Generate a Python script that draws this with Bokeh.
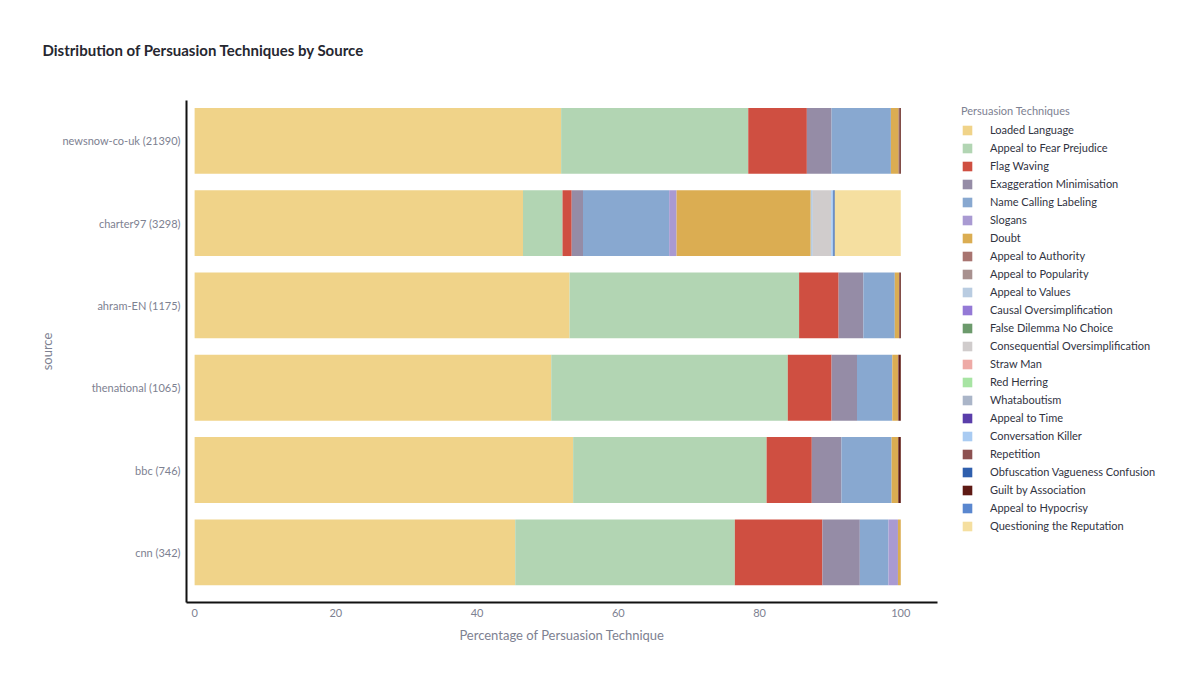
from bokeh.plotting import figure
from bokeh.models import ColumnDataSource, Range1d, FixedTicker, Legend, LegendItem
from bokeh.embed import file_html
from bokeh.resources import INLINE

FONT = "Lato"

# ---------------- data ----------------
sources = ["newsnow-co-uk (21390)", "charter97 (3298)", "ahram-EN (1175)",
           "thenational (1065)", "bbc (746)", "cnn (342)"]

techniques = ["Loaded Language", "Appeal to Fear Prejudice", "Flag Waving",
              "Exaggeration Minimisation", "Name Calling Labeling", "Slogans", "Doubt",
              "Appeal to Authority", "Appeal to Popularity", "Appeal to Values",
              "Causal Oversimplification", "False Dilemma No Choice",
              "Consequential Oversimplification", "Straw Man", "Red Herring",
              "Whataboutism", "Appeal to Time", "Conversation Killer", "Repetition",
              "Obfuscation Vagueness Confusion", "Guilt by Association",
              "Appeal to Hypocrisy", "Questioning the Reputation"]

colors = ["#f0d389", "#b2d5b3", "#cf4f41", "#958ca6", "#88a8d0", "#a99ad2", "#dbad52",
          "#a87470", "#a8918f", "#b9cce1", "#9479d6", "#6c9a6c", "#d0cccc", "#eeaaa6",
          "#a7e4a3", "#aab5c8", "#5a3eaa", "#a9cbf2", "#8c5151", "#2f5fad", "#5e1a14",
          "#5a87cf", "#f5dfa0"]

# percentages per source, in the order of `techniques`
newsnow = [51.9, 26.5, 8.3, 3.5, 8.4, 0, 1.1, 0, 0, 0, 0, 0, 0, 0, 0, 0, 0, 0, 0.15, 0, 0.15, 0, 0]
charter97 = [46.5, 5.6, 1.3, 1.6, 12.2, 1.05, 19.0, 0, 0, 0.3, 0, 0, 2.6, 0, 0, 0, 0, 0.3, 0, 0.2, 0, 0, 9.35]
ahram = [53.1, 32.5, 5.6, 3.5, 4.45, 0, 0.6, 0, 0, 0, 0, 0, 0, 0, 0, 0, 0, 0, 0.1, 0, 0.15, 0, 0]
thenational = [50.5, 33.5, 6.2, 3.6, 5.0, 0, 0.8, 0, 0, 0, 0, 0, 0, 0, 0, 0, 0, 0, 0.1, 0, 0.3, 0, 0]
bbc = [53.6, 27.4, 6.4, 4.2, 7.1, 0, 0.95, 0, 0, 0, 0, 0, 0, 0, 0, 0, 0, 0, 0, 0, 0.35, 0, 0]
cnn = [45.4, 31.1, 12.4, 5.3, 4.05, 1.35, 0.4, 0, 0, 0, 0, 0, 0, 0, 0, 0, 0, 0, 0, 0, 0, 0, 0]

x_ticks = [0, 20, 40, 60, 80, 100]

rows = [newsnow, charter97, ahram, thenational, bbc, cnn]
n = len(sources)
ypos = [n - 1 - i for i in range(n)]  # top to bottom

data = {"y": ypos, "source": sources}
keys = []
for j, t in enumerate(techniques):
    k = "t%d" % j
    keys.append(k)
    data[k] = [r[j] for r in rows]
cds = ColumnDataSource(data)

# ---------------- figure ----------------
p = figure(frame_width=751, frame_height=502, min_border_left=186, min_border_top=100,
           min_border_bottom=60, min_border_right=248,
           x_range=Range1d(-1.15, 105.2), y_range=Range1d(-0.61, 5.49),
           title="Distribution of Persuasion Techniques by Source",
           output_backend="svg", toolbar_location=None, tools="")
p.outline_line_color = None
p.background_fill_color = "white"
p.border_fill_color = "white"
p.xgrid.visible = False
p.ygrid.visible = False

p.title.align = "left"
p.title.vertical_align = "top"
p.title.offset = -144
p.title.standoff = 80
p.title.text_font = FONT
p.title.text_font_size = "15px"
p.title.text_font_style = "bold"
p.title.text_color = "#262730"

renderers = p.hbar_stack(keys, y="y", height=0.8, color=colors, source=cds,
                         line_color=None)

# axes
p.xaxis.ticker = FixedTicker(ticks=x_ticks)
p.xaxis.axis_label = "Percentage of Persuasion Technique"
p.yaxis.ticker = FixedTicker(ticks=ypos)
p.yaxis.major_label_overrides = {y: s for y, s in zip(ypos, sources)}
p.yaxis.axis_label = "source"
for ax in (p.xaxis[0], p.yaxis[0]):
    ax.axis_line_color = "#111111"
    ax.axis_line_width = 2
    ax.major_tick_line_color = None
    ax.minor_tick_line_color = None
    ax.major_tick_out = 0
    ax.minor_tick_out = 0
    ax.major_label_text_font = FONT
    ax.major_label_text_font_size = "11px"
    ax.major_label_text_color = "#7d8191"
    ax.axis_label_text_font = FONT
    ax.axis_label_text_font_style = "normal"
    ax.axis_label_text_font_size = "13px"
    ax.axis_label_text_color = "#7d8191"
    ax.major_label_standoff = 6
p.xaxis.axis_label_standoff = 7
p.yaxis.axis_label_standoff = 4

# legend
items = [LegendItem(label=t, renderers=[r]) for t, r in zip(techniques, renderers)]
legend = Legend(items=items, location=(24, 70), margin=0, padding=0,
                title="Persuasion Techniques", title_text_font=FONT,
                title_text_font_size="11px", title_text_font_style="normal",
                title_text_color="#7d8191", title_standoff=6,
                border_line_color=None, background_fill_alpha=0,
                glyph_width=12, glyph_height=12, label_height=12, spacing=5,
                label_standoff=17, label_text_font=FONT, label_text_font_size="11px",
                label_text_color="#31333f")
p.add_layout(legend, "right")

open("out.html", "w").write(file_html(p, INLINE))
